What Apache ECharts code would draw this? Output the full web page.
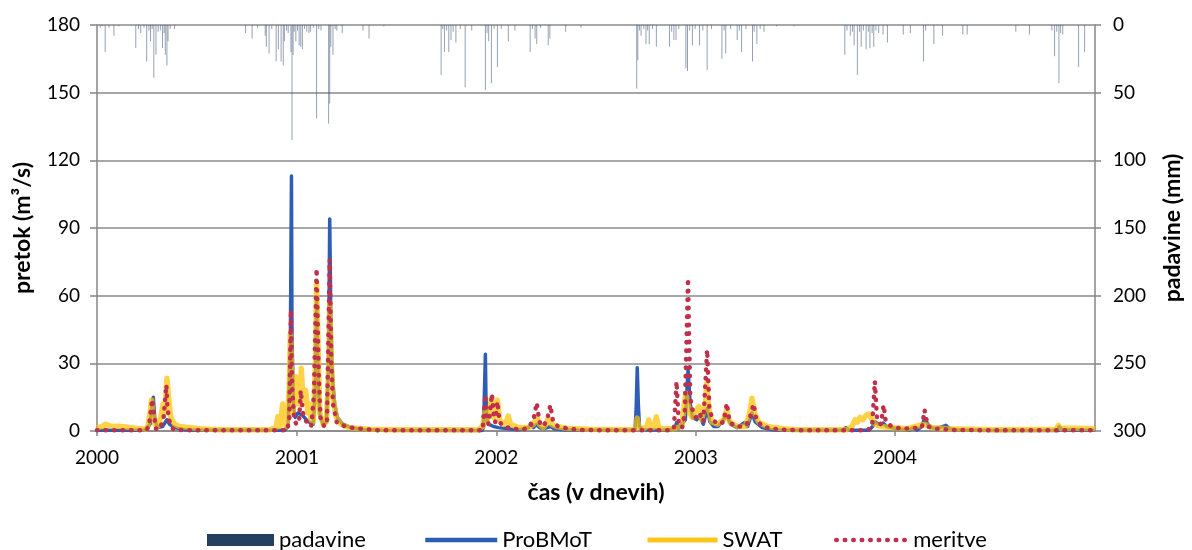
<!DOCTYPE html>
<html>
<head>
<meta charset="utf-8">
<script src="https://cdn.jsdelivr.net/npm/echarts@6/dist/echarts.min.js"></script>
<style>
  html, body { margin: 0; padding: 0; background: #fff; }
  #chart { width: 1192px; height: 550px; }
</style>
</head>
<body>
<div id="chart"></div>
<script>
// Time axis in days counted from 1 Jan 2000; ticks at the start of each year.
const yearTicks = [0, 366, 731, 1096, 1461];
const yearLabels = ['2000', '2001', '2002', '2003', '2004'];
const dayMax = 1827;

// Daily precipitation [day, mm]
const padavine = [
  [6,2],[10,1],[15,20],[22,2],[31,8],[40,1],[71,17],[76,3],[80,6],[86,2],[91,27],[95,4],[98,12],[101,3],
  [104,39],[108,22],[112,5],[116,4],[120,17],[123,6],[125,22],[128,30],[130,12],[134,3],[142,3],
  [272,6],[284,10],[294,2],[308,8],[310,16],[315,21],[320,3],[328,27],[332,18],[337,27],[341,30],
  [343,12],[347,4],[350,6],[355,20],[357,85],[359,22],[361,5],[364,12],[367,4],[370,15],[373,16],
  [376,18],[380,3],[384,5],[388,6],[391,5],[396,2],[402,69],[406,3],[410,4],[424,73],[426,58],
  [428,16],[432,22],[436,3],[439,4],[449,6],[487,4],[498,10],[525,1],
  [630,37],[633,3],[636,20],[640,4],[644,20],[648,11],[652,5],[657,13],[665,3],[674,46],[686,4],
  [711,48],[714,6],[717,12],[722,43],[727,3],[733,31],[740,3],[753,12],[765,4],[793,20],[797,3],
  [802,10],[805,14],[812,2],[826,15],[829,10],[858,5],[886,2],
  [988,47],[990,26],[993,4],[996,8],[1001,3],[1005,14],[1008,4],[1011,14],[1017,3],[1024,16],
  [1048,16],[1052,5],[1056,11],[1060,11],[1065,3],[1078,32],[1081,34],[1085,4],[1090,15],[1095,3],
  [1103,15],[1109,4],[1117,33],[1125,3],[1144,25],[1148,4],[1151,21],[1160,3],[1172,11],[1176,4],
  [1180,20],[1188,3],[1200,27],[1203,5],[1208,14],[1214,3],[1221,5],[1244,1],[1276,1],
  [1369,22],[1373,4],[1379,8],[1383,5],[1386,15],[1392,37],[1396,5],[1399,16],[1403,4],[1408,18],
  [1412,5],[1415,17],[1419,6],[1422,16],[1426,4],[1431,6],[1439,7],[1447,13],[1476,7],[1489,6],
  [1513,27],[1517,4],[1532,14],[1548,8],[1585,7],[1593,7],[1682,5],[1707,7],
  [1748,4],[1753,23],[1757,5],[1761,43],[1764,6],[1768,7],[1797,31],[1808,20]
];

// Simulated discharge, ProBMoT [day, m3/s]
const probmot = [
  [0,0.3],[87,0.3],[97,3],[103,15],[106,5],[111,1.5],[120,2],[128,5],[133,3],[142,1.5],[160,0.6],
  [188,0.3],[343,0.3],[350,2],[354,40],[356,113],[357,40],[360,10],[363,6],[368,8],[376,7],[383,5],
  [388,4],[396,3],[400,20],[402,58],[405,20],[408,7],[414,3],[420,4],[424,30],[426,94],[428,53],
  [430,30],[432,21],[435,12],[440,6],[450,3],[465,1.5],[490,0.6],[520,0.3],
  [705,0.2],[708,2],[709,15],[711,34],[712,15],[714,5],[717,3],[726,2],[735,1.5],[753,1],[771,0.5],
  [790,1.5],[794,3.4],[799,1.5],[804,3],[810,1.5],[817,1],[830,2],[837,1],[853,0.5],[881,0.3],
  [985,0.3],[987,10],[989,28],[991,12],[993,2],[999,0.5],[1045,0.3],[1058,1],[1061,3.7],[1064,1],
  [1077,5],[1082,27],[1086,12],[1090,6],[1098,5],[1103,7],[1110,3],[1117,10],[1122,4],[1129,2],
  [1137,2],[1147,5],[1153,7],[1160,3],[1172,1.5],[1185,3.7],[1191,2],[1199,8],[1205,4],[1218,1.5],
  [1236,0.5],[1264,0.3],[1364,0.3],[1371,1.5],[1377,0.3],[1413,0.3],[1420,2],[1424,4.1],[1431,3],
  [1439,3.5],[1446,2],[1464,1],[1486,0.4],[1495,1.5],[1501,0.4],[1510,2],[1515,5.7],[1521,3],
  [1528,1.5],[1537,1],[1554,2.5],[1561,1],[1574,0.4],[1647,0.2],[1760,0.2],[1761,2],[1767,0.5],
  [1827,0.3]
];

// Simulated discharge, SWAT [day, m3/s]
const swat = [
  [0,1.5],[10,2],[15,3],[25,2.2],[45,2],[70,1.2],[90,0.8],[93,2],[97,8],[100,13.7],[102,8],[106,3],
  [111,2],[117,6],[121,12],[124,8],[128,23.4],[131,15],[135,6],[142,3],[151,2],[170,1.5],[188,1],
  [224,0.6],[315,0.5],[328,1.5],[331,6.3],[334,2],[337,6],[340,12],[344,3],[348,2],[352,20],
  [354,43],[356,30],[359,8],[364,24],[366,12],[369,21],[372,12],[374,27.8],[377,14],[382,18],
  [386,8],[388,12],[392,5],[396,4],[400,30],[402,65.5],[406,25],[408,8],[414,3],[420,4],[424,25],
  [426,57],[429,30],[432,15],[438,6],[447,3],[461,1.5],[498,0.8],[553,0.5],
  [698,0.6],[706,2],[711,8.5],[713,4],[718,8],[722,14.5],[726,6],[729,8],[733,13.7],[737,5],[744,3],
  [749,4],[753,6.6],[757,3],[771,1.5],[790,1.5],[799,3],[805,6.3],[810,3],[817,1.5],[822,3],
  [826,5.6],[832,3],[841,2],[859,1.2],[899,0.8],[981,0.6],[986,1],[989,5.7],[992,1.5],[1001,1],
  [1007,2],[1010,4.9],[1013,1.5],[1019,1.5],[1024,6.3],[1028,1.5],[1036,1],[1055,1],[1062,1.5],
  [1071,2],[1074,10],[1078,16.7],[1081,17.4],[1085,8],[1090,6],[1096,9],[1102,10.8],[1107,5],
  [1110,5],[1114,12],[1116,21],[1120,10],[1125,4],[1136,3],[1147,5],[1153,9.5],[1158,4],[1172,2],
  [1187,2],[1195,8],[1199,14.5],[1204,8],[1211,4],[1227,2],[1255,1],[1282,0.6],[1373,0.6],
  [1382,2],[1388,5],[1392,4],[1397,6],[1402,5],[1408,7],[1413,7.5],[1419,5],[1424,3],[1436,2],
  [1455,1.5],[1482,1],[1515,3],[1528,1.5],[1556,1],[1647,0.6],[1756,0.8],[1760,2.5],[1763,1.2],
  [1792,1.2],[1827,1]
];

// Measured discharge [day, m3/s]
const meritve = [
  [0,0.3],[90,0.3],[95,2],[101,14],[104,8],[108,1],[115,0.8],[122,6],[127,20.4],[129,10],[133,4],
  [137,1.5],[142,0.5],[188,0.3],[348,0.3],[352,5],[355,53.6],[357,20],[361,5],[365,3],[370,4],
  [373,18],[377,8],[381,5],[387,3],[392,2],[397,15],[402,72],[406,25],[409,6],[416,2],[421,4],
  [426,76],[429,30],[432,12],[439,3.7],[455,2],[470,1.3],[485,0.9],[501,0.6],[516,0.3],
  [706,0.3],[708,8],[711,16],[713,5],[717,3],[723,16.4],[727,5],[729,4],[733,13],[737,4],[744,2],
  [762,1],[780,0.6],[793,2],[799,5],[805,12.5],[810,4],[817,2],[824,5],[830,11.5],[835,4],[844,2],
  [863,1],[890,0.4],[1045,0.3],[1056,1],[1061,21.9],[1065,3],[1071,1.5],[1076,8],[1082,67.7],
  [1086,15],[1090,9.5],[1096,6],[1103,8],[1110,4],[1117,36],[1121,10],[1127,5],[1137,3],[1147,4],
  [1153,12.3],[1158,4],[1169,2],[1184,2],[1193,4],[1202,12],[1207,5],[1218,2],[1236,1],[1264,0.4],
  [1410,0.3],[1419,2],[1424,22],[1428,5],[1435,3],[1440,11.5],[1444,4],[1455,2],[1473,1],
  [1510,1.5],[1515,9.3],[1521,2],[1537,1],[1574,0.4],[1827,0.3]
];

const FONT = 'Lato, "Open Sans", sans-serif';
const axisGray = '#868686';
const blue = '#2e5db6';
const gold = '#ffc000';
const crimson = '#c0304b';

const titleStyle = { fontFamily: FONT, fontWeight: 'bold', fontSize: 23, color: '#000' };
const tickStyle = { fontFamily: FONT, fontSize: 19, color: '#000' };

const chart = echarts.init(document.getElementById('chart'), null, { renderer: 'canvas' });

// One legend block per entry so each sits at its own place on the bottom row.
function legendAt(left, w, h, data) {
  return {
    left: left, top: 526, height: 28, orient: 'horizontal', padding: 0,
    itemWidth: w, itemHeight: h, itemGap: 0,
    textStyle: { fontFamily: FONT, fontSize: 22, color: '#000', lineHeight: 28 },
    selectedMode: false,
    data: [data]
  };
}

chart.setOption({
  animation: false,
  backgroundColor: '#fff',
  textStyle: { fontFamily: FONT },
  grid: { left: 97, right: 93, top: 25, bottom: 119, containLabel: false },
  legend: [
    legendAt(207, 67, 12, { name: 'padavine', icon: 'rect', itemStyle: { color: '#243f60', opacity: 1 } }),
    legendAt(423, 72, 14, { name: 'ProBMoT', itemStyle: { opacity: 0 },
      lineStyle: { color: blue, width: 4.5, opacity: 1 } }),
    legendAt(645, 70, 14, { name: 'SWAT', itemStyle: { opacity: 0 },
      lineStyle: { color: gold, width: 5, opacity: 0.9 } }),
    legendAt(834, 72, 14, { name: 'meritve', itemStyle: { opacity: 0 },
      lineStyle: { color: crimson, width: 4.5, type: [0.5, 8], cap: 'round', opacity: 1 } })
  ],
  xAxis: {
    type: 'value', min: 0, max: dayMax,
    name: 'čas (v dnevih)', nameLocation: 'middle', nameGap: 50,
    nameTextStyle: titleStyle,
    axisLine: { show: true, onZero: false, lineStyle: { color: axisGray, width: 1.5 } },
    axisTick: { show: true, customValues: yearTicks, length: 5, lineStyle: { color: axisGray, width: 1.5 } },
    axisLabel: Object.assign({
      customValues: yearTicks, margin: 17,
      formatter: v => yearLabels[yearTicks.indexOf(v)]
    }, tickStyle),
    splitLine: { show: false }
  },
  yAxis: [
    {
      type: 'value', min: 0, max: 180, interval: 30, position: 'left',
      name: 'pretok (m³/s)', nameLocation: 'middle', nameGap: 63, nameRotate: 90,
      nameTextStyle: titleStyle,
      axisLine: { show: true, lineStyle: { color: axisGray, width: 1.5 } },
      axisTick: { show: true, length: 7, lineStyle: { color: axisGray, width: 1.5 } },
      axisLabel: Object.assign({ margin: 17 }, tickStyle),
      splitLine: { show: true, lineStyle: { color: '#8a8a8a', width: 1.5 } }
    },
    {
      type: 'value', min: 0, max: 300, interval: 50, position: 'right', inverse: true,
      name: 'padavine (mm)', nameLocation: 'middle', nameGap: 66, nameRotate: 90,
      nameTextStyle: titleStyle,
      axisLine: { show: true, lineStyle: { color: axisGray, width: 1.5 } },
      axisTick: { show: true, length: 6, lineStyle: { color: axisGray, width: 1.5 } },
      axisLabel: Object.assign({ margin: 18 }, tickStyle),
      splitLine: { show: false }
    }
  ],
  series: [
    {
      name: 'padavine', type: 'bar', xAxisIndex: 0, yAxisIndex: 1,
      data: padavine, barWidth: 1, barGap: '0%',
      itemStyle: { color: '#3d5476', opacity: 0.55 }
    },
    {
      name: 'ProBMoT', type: 'line', yAxisIndex: 0, data: probmot,
      symbol: 'none', showSymbol: false,
      lineStyle: { color: blue, width: 3.5, join: 'round' },
      itemStyle: { color: blue }
    },
    {
      name: 'SWAT', type: 'line', yAxisIndex: 0, data: swat,
      symbol: 'none', showSymbol: false,
      lineStyle: { color: gold, width: 5.5, opacity: 0.72, join: 'round' },
      itemStyle: { color: gold }
    },
    {
      name: 'meritve', type: 'line', yAxisIndex: 0, data: meritve,
      symbol: 'none', showSymbol: false,
      lineStyle: { color: crimson, width: 4.5, type: [0.5, 8], cap: 'round', join: 'round' },
      itemStyle: { color: crimson }
    }
  ]
});
</script>
</body>
</html>
